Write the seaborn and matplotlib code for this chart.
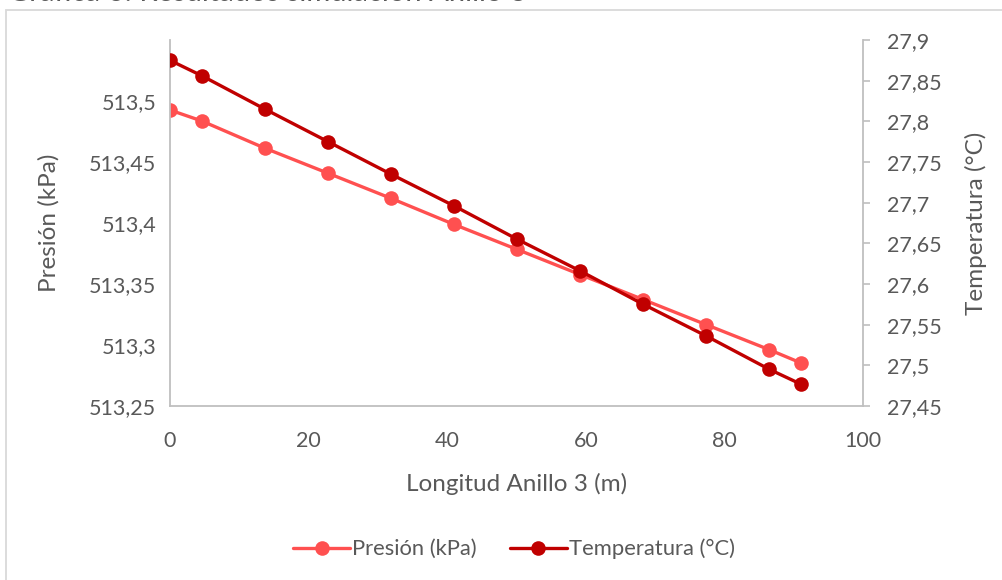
import matplotlib
matplotlib.use("Agg")
import matplotlib.pyplot as plt
from matplotlib.patches import Rectangle
from matplotlib.lines import Line2D
from matplotlib.ticker import FuncFormatter, MultipleLocator
import seaborn as sns
import pandas as pd

# Longitud a lo largo del anillo (m)
longitud = [0, 4.6, 13.7, 22.8, 31.9, 41.0, 50.1, 59.2, 68.3, 77.4, 86.5, 91.0]
# Presión simulada (kPa)
presion = [513.4926, 513.4836, 513.4613, 513.4408, 513.4202, 513.3988,
           513.3783, 513.3577, 513.3372, 513.3166, 513.2961, 513.2854]
# Temperatura simulada (°C)
temperatura = [27.875, 27.856, 27.815, 27.775, 27.735, 27.696,
               27.655, 27.616, 27.575, 27.536, 27.495, 27.477]

titulo = "Gráfica 6: Resultados simulación Anillo 3"
etiqueta_x = "Longitud Anillo 3 (m)"
etiqueta_p = "Presión (kPa)"
etiqueta_t = "Temperatura (°C)"

df = pd.DataFrame({"x": longitud, "p": presion, "t": temperatura})

sns.set_theme(style="white")
plt.rcParams["font.family"] = ["Lato", "DejaVu Sans"]

C_P = "#FF5050"
C_T = "#C00000"
TXT = "#595959"
AX = "#bfbfbf"

fig = plt.figure(figsize=(10.02, 5.8), dpi=100)
ax = fig.add_axes([170 / 1002, 1 - 406 / 580, (863 - 170) / 1002, (406 - 40) / 580])
ax2 = ax.twinx()

sns.lineplot(data=df, x="x", y="p", ax=ax, color=C_P, marker="o",
             markersize=10.5, markeredgewidth=0, linewidth=2.4)
sns.lineplot(data=df, x="x", y="t", ax=ax2, color=C_T, marker="o",
             markersize=10.5, markeredgewidth=0, linewidth=2.4)

ax.set_xlim(0, 100)
ax.xaxis.set_major_locator(MultipleLocator(20))
ax.set_ylim(513.25, 513.55)
ax.set_yticks([513.25, 513.3, 513.35, 513.4, 513.45, 513.5])
ax2.set_ylim(27.45, 27.9)
ax2.set_yticks([27.45, 27.5, 27.55, 27.6, 27.65, 27.7, 27.75, 27.8, 27.85, 27.9])

coma = FuncFormatter(lambda v, pos: f"{v:g}".replace(".", ","))
ax.xaxis.set_major_formatter(coma)
ax.yaxis.set_major_formatter(coma)
ax2.yaxis.set_major_formatter(coma)

for a in (ax, ax2):
    for s in a.spines.values():
        s.set_visible(False)

ax.spines["left"].set_visible(True)
ax.spines["bottom"].set_visible(True)
ax2.spines["right"].set_visible(True)
for s in (ax.spines["left"], ax.spines["bottom"], ax2.spines["right"]):
    s.set_color(AX)
    s.set_linewidth(1.3)

ax.tick_params(axis="both", length=0, labelsize=15.5, labelcolor=TXT, pad=10)
ax.tick_params(axis="x", pad=18)
ax2.tick_params(axis="y", length=5, width=1.2, color=AX, direction="out",
                labelsize=15.5, labelcolor=TXT, pad=12)

ax.set_xlabel(etiqueta_x, fontsize=17.5, color=TXT, labelpad=16)
ax.set_ylabel(etiqueta_p, fontsize=17.5, color=TXT)
ax2.set_ylabel(etiqueta_t, fontsize=17.5, color=TXT, rotation=90)
ax2.yaxis.set_label_coords(1 + (965 - 863) / 693, 0.5)
ax.yaxis.set_label_coords(-(170 - 60) / 693, 0.5)
ax.grid(False)
ax2.grid(False)

handles = [
    Line2D([0], [0], color=C_P, marker="o", markersize=10.5, markeredgewidth=0, linewidth=2.4),
    Line2D([0], [0], color=C_T, marker="o", markersize=10.5, markeredgewidth=0, linewidth=2.4),
]
leg = fig.legend(handles, [etiqueta_p, etiqueta_t], loc="center",
                 bbox_to_anchor=(514 / 1002, 1 - 549 / 580), ncol=2, frameon=False,
                 fontsize=15.8, handlelength=2.6, handletextpad=0.1, columnspacing=1.5)
for t in leg.get_texts():
    t.set_color(TXT)

# Marco del gráfico
fig.add_artist(Rectangle((6 / 1002, -0.2), 1.2, 1.2 - 10 / 580,
                         transform=fig.transFigure, fill=False,
                         edgecolor="#d9d9d9", linewidth=1.3))

# Título del gráfico, en el borde superior
fig.text(8 / 1002, 1 - 1.2 / 580, titulo, fontsize=21, color=TXT, va="baseline", ha="left")

fig.savefig("out.png", dpi=100, facecolor="white")
